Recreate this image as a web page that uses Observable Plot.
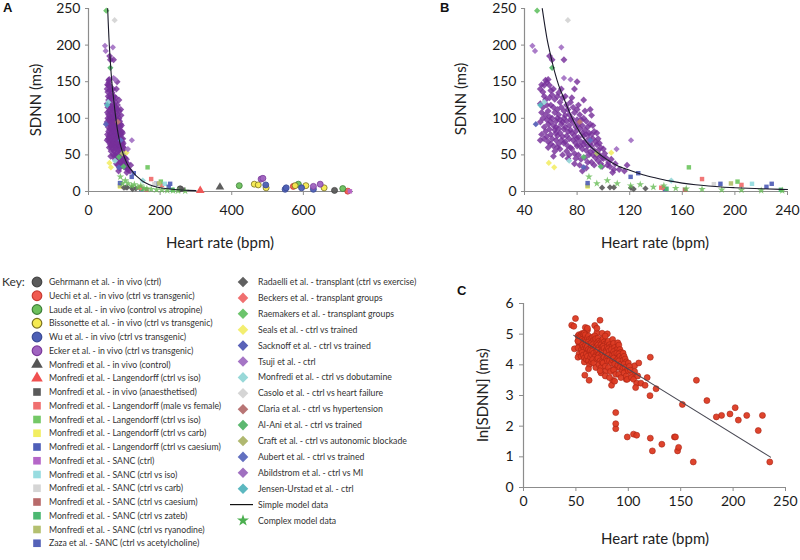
<!DOCTYPE html>
<html><head><meta charset="utf-8">
<script src="https://cdn.jsdelivr.net/npm/d3@7"></script>
<script src="https://cdn.jsdelivr.net/npm/@observablehq/plot@0.6"></script>
<style>
body{margin:0;background:#fff;font-family:Lato,sans-serif;}
#root{position:relative;width:800px;height:560px;overflow:hidden;background:#fff;}
.abs{position:absolute;}
.ttl{position:absolute;font-size:15px;color:#222;white-space:nowrap;transform:translate(-50%,-50%);}
.rot{transform:translate(-50%,-50%) rotate(-90deg);}
.pl{position:absolute;font:bold 13px Arial,sans-serif;color:#111;}
g[aria-label="x-axis"] line, g[aria-label="y-axis"] line,
g[aria-label="x-axis tick"] path, g[aria-label="y-axis tick"] path{stroke:#8c8c8c;}
</style></head>
<body><div id="root">
<div id="pA" class="abs" style="left:0;top:0"></div>
<div id="pB" class="abs" style="left:400px;top:0"></div>
<div id="pC" class="abs" style="left:450px;top:290px"></div>
<svg id="legend" class="abs" style="left:0;top:270px" width="460" height="290"></svg>
<div class="pl" style="left:3px;top:0">A</div>
<div class="pl" style="left:440px;top:0">B</div>
<div class="pl" style="left:457px;top:283px">C</div>
<div class="ttl rot" style="left:35px;top:100px">SDNN (ms)</div>
<div class="ttl" style="left:220px;top:242px">Heart rate (bpm)</div>
<div class="ttl rot" style="left:460px;top:99px">SDNN (ms)</div>
<div class="ttl" style="left:655px;top:242px">Heart rate (bpm)</div>
<div class="ttl rot" style="left:482px;top:395px">ln[SDNN] (ms)</div>
<div class="ttl" style="left:655px;top:538px">Heart rate (bpm)</div>
</div>
<script>
// ---------- data: [heart rate (bpm), SDNN (ms)] ----------
const gehrmann = [[687,1.5],[256,3.6]];
const uechi = [[724,0.5],[572,7]];
const laude = [[421,8],[586,10],[710,4]];
const bissonette = [[463,10],[474,9],[496,5],[577,8],[607,8],[658,5]];
const wu = [[495,9],[549,3],[552,5],[595,5],[628,3]];
const ecker = [[482,17],[487,18],[628,7],[647,10]];
const monInVivoCtrl = [[367,6]];
const monLangIsoTri = [[312,1.4]];
const monInVivoAnaes = [[264,2.5]];
const monLangMF = [[175,17],[205,9],[144,5.2]];
const monLangIso = [[165,33],[202,13.5]];
const monLangCarb = [[88,6.8]];
const monLangCs = [[189,10.5],[147,3.3]];
const monSancCtrl = [[730,0.3]];
const monSancIso = [[213,10.5]];
const monSancCarb = [[184,10]];
const monSancCs = [[162,2.3]];
const monSancZateb = [[148,3.7],[235,2.3]];
const monSancRyan = [[197,11],[88,8]];
const zaza = [[88,11.5],[120.7,20],[126.5,25],[224,6.4],[228,10.5]];
const radaelli = [[99,5.2],[105,5.7],[108,5.5],[121,5],[123,3.3],[132,4.1]];
const beckers = [[145,5.2]];
const raemakers = [[49.6,247]];
const seals = [[58.5,39],[62.6,33],[106,53]];
const sacknoff = [[48.6,92],[85,33]];
const tsuji = [[46,199],[48,192],[70,155],[75,153],[68,197],[110,58],[121,70]];
const monDobut = [[55,122],[74,42],[151.6,15]];
const casolo = [[73,234]];
const claria = [[82,95]];
const alAni = [[61,169],[85,47],[98,34]];
const craft = [[95,52]];
const aubert = [[90,70]];
const abildstrom = [
 [52,140],[53,146],[52,120],[53,108],[54,100],[52,95],[54,115],[55,130],[55,88],[53,78],[52,70],[55,72],[54,136],[55,145],
 [56,152],[57,149],[58,153],[56,125],[57,118],[58,110],[56,105],[57,98],[58,92],[59,85],[56,82],[57,75],[58,68],[59,128],[60,138],[59,145],[60,118],[59,102],[60,95],[60,78],[58,60],[60,65],[59,185],[61,180],
 [61,132],[62,140],[63,126],[62,115],[63,108],[61,100],[64,96],[62,90],[63,84],[64,80],[61,72],[62,62],[64,70],[63,55],[65,130],[65,112],[65,100],[64,88],[65,76],[65,60],[62,48],
 [66,135],[67,122],[68,115],[66,105],[67,98],[68,92],[66,86],[67,80],[69,75],[68,70],[66,65],[67,58],[69,50],[68,140],[69,128],[70,110],[70,100],[69,95],[70,85],[70,66],[70,180],
 [71,130],[72,118],[73,112],[71,104],[72,96],[74,90],[71,88],[73,82],[72,76],[74,72],[71,68],[73,62],[72,55],[74,50],[75,122],[74,105],[75,98],[75,84],[73,45],[75,60],
 [76,128],[77,115],[78,108],[76,100],[77,94],[79,88],[76,80],[78,76],[77,70],[79,66],[76,58],[78,52],[79,45],[80,150],[78,140],[80,112],[80,98],[79,82],[80,72],[80,62],[78,38],
 [81,118],[82,105],[83,98],[81,92],[82,86],[84,80],[81,74],[83,68],[82,62],[84,58],[81,50],[83,44],[85,125],[85,100],[84,90],[85,76],[85,64],[82,36],[84,28],
 [86,110],[87,96],[88,88],[86,84],[87,78],[89,72],[86,68],[88,62],[87,56],[89,50],[86,46],[88,40],[90,112],[90,92],[89,80],[90,66],[90,54],[87,32],
 [91,104],[92,90],[93,82],[91,78],[92,72],[94,68],[91,62],[93,56],[92,50],[94,46],[91,40],[93,36],[95,80],[95,64],[95,50],
 [96,72],[97,66],[98,60],[96,56],[97,50],[99,46],[96,42],[98,38],[100,58],[100,45],[99,34],
 [101,52],[102,46],[104,40],[103,36],[105,34],[106,44],[108,30],[112,30],[109,38],[107,26],
 [118,36],[116,28]];
const jensen = [[52,118]];
const simpleModel = [[53.5,250],[55,232],[57,210],[60,185],[63,163],[66,145],[70,127],[75,105],[80,87],[85,73],[90,62],[95,54],[100,47],[110,36],[120,29],[130,23],[140,18.5],[150,14.5],[160,11.5],[170,9.3],[180,7.6],[190,6.2],[200,5.2],[220,3.7],[240,2.7],[260,2],[280,1.5],[300,1.2]];
const complexModel = [[89,20],[95,11],[103,15],[110.5,11],[120.7,8],[128,9.6],[138,6],[146,8],[155,4.5],[163,3.6],[175,3],[190,2.5],[205,2],[220,1.5],[236,1.2],[250,1],[270,0.8]];
// panel C fitted line: [heart rate, ln SDNN]
const lnModel = [[48,4.96],[235.7,0.99]];
// tick labels
const ticksA_x = [0,200,400,600];
const ticksB_x = [40,80,120,160,200,240];
const ticksSDNN = [0,50,100,150,200,250];
const ticksC_x = [0,50,100,150,200,250];
const ticksC_y = [0,1,2,3,4,5,6];

// series table (legend order)
const leftSeries = [
 {name:"Gehrmann et al. - in vivo (ctrl)", shape:"circle", fill:"#5b5b5b", stroke:"#444", data:gehrmann},
 {name:"Uechi et al. - in vivo (ctrl vs transgenic)", shape:"circle", fill:"#f05a50", stroke:"#c83a32", data:uechi},
 {name:"Laude et al. - in vivo (control vs atropine)", shape:"circle", fill:"#6cc05c", stroke:"#3f7f3a", data:laude},
 {name:"Bissonette et al. - in vivo (ctrl vs transgenic)", shape:"circle", fill:"#f5ea50", stroke:"#7a7020", data:bissonette},
 {name:"Wu et al. - in vivo (ctrl vs transgenic)", shape:"circle", fill:"#4d5fb5", stroke:"#3a4a95", data:wu},
 {name:"Ecker et al. - in vivo (ctrl vs transgenic)", shape:"circle", fill:"#a064c0", stroke:"#7a3a9a", data:ecker},
 {name:"Monfredi et al. - in vivo (control)", shape:"triangle", fill:"#555", stroke:"#555", data:monInVivoCtrl},
 {name:"Monfredi et al. - Langendorff (ctrl vs iso)", shape:"triangle", fill:"#f05050", stroke:"#f05050", data:monLangIsoTri},
 {name:"Monfredi et al. - in vivo (anaesthetised)", shape:"square", fill:"#5a5a5a", stroke:"#5a5a5a", data:monInVivoAnaes},
 {name:"Monfredi et al. - Langendorff (male vs female)", shape:"square", fill:"#f07070", stroke:"#f07070", data:monLangMF},
 {name:"Monfredi et al. - Langendorff (ctrl vs iso)", shape:"square", fill:"#74c866", stroke:"#74c866", data:monLangIso},
 {name:"Monfredi et al. - Langendorff (ctrl vs carb)", shape:"square", fill:"#f2ee60", stroke:"#f2ee60", data:monLangCarb},
 {name:"Monfredi et al. - Langendorff (ctrl vs caesium)", shape:"square", fill:"#4f5fb8", stroke:"#4f5fb8", data:monLangCs},
 {name:"Monfredi et al. - SANC (ctrl)", shape:"square", fill:"#b566c8", stroke:"#b566c8", data:monSancCtrl},
 {name:"Monfredi et al. - SANC (ctrl vs iso)", shape:"square", fill:"#98dce0", stroke:"#98dce0", data:monSancIso},
 {name:"Monfredi et al. - SANC (ctrl vs carb)", shape:"square", fill:"#d5d5d5", stroke:"#d5d5d5", data:monSancCarb},
 {name:"Monfredi et al. - SANC (ctrl vs caesium)", shape:"square", fill:"#b86a6a", stroke:"#b86a6a", data:monSancCs},
 {name:"Monfredi et al. - SANC (ctrl vs zateb)", shape:"square", fill:"#4cb872", stroke:"#4cb872", data:monSancZateb},
 {name:"Monfredi et al. - SANC (ctrl vs ryanodine)", shape:"square", fill:"#b4c070", stroke:"#b4c070", data:monSancRyan},
 {name:"Zaza et al. - SANC (ctrl vs acetylcholine)", shape:"square", fill:"#5562b8", stroke:"#5562b8", data:zaza}
];
const rightSeries = [
 {name:"Radaelli et al. - transplant (ctrl vs exercise)", shape:"diamond", fill:"#606060", data:radaelli},
 {name:"Beckers et al. - transplant groups", shape:"diamond", fill:"#f07070", data:beckers},
 {name:"Raemakers et al. - transplant groups", shape:"diamond", fill:"#6cc46c", data:raemakers},
 {name:"Seals et al. - ctrl vs trained", shape:"diamond", fill:"#f3ee70", data:seals},
 {name:"Sacknoff et al. - ctrl vs trained", shape:"diamond", fill:"#5a62b8", data:sacknoff},
 {name:"Tsuji et al. - ctrl", shape:"diamond", fill:"#a575c5", data:tsuji},
 {name:"Monfredi et al. - ctrl vs dobutamine", shape:"diamond", fill:"#98d8d8", data:monDobut},
 {name:"Casolo et al. - ctrl vs heart failure", shape:"diamond", fill:"#d5d5d5", data:casolo},
 {name:"Claria et al. - ctrl vs hypertension", shape:"diamond", fill:"#b87575", data:claria},
 {name:"Al-Ani et al. - ctrl vs trained", shape:"diamond", fill:"#5cb870", data:alAni},
 {name:"Craft et al. - ctrl vs autonomic blockade", shape:"diamond", fill:"#b0b870", data:craft},
 {name:"Aubert et al. - ctrl vs trained", shape:"diamond", fill:"#6270c0", data:aubert},
 {name:"Abildstrom et al. - ctrl vs MI", shape:"diamond", fill:"#a070c0", data:abildstrom, plotFill:"#76309a"},
 {name:"Jensen-Urstad et al. - ctrl", shape:"diamond", fill:"#5cb8c0", data:jensen}
];
const allSeries = [...leftSeries, ...rightSeries];
const plotSymbol = {circle:"circle", triangle:"triangle", square:"square", diamond:"diamond2"};
const plotR = {circle:3, triangle:3.2, square:2.5, diamond:2.8};

const baseStyle = {fontFamily:"Lato, sans-serif", fontSize:"14px", color:"#1a1a1a", background:"transparent", overflow:"visible"};

function sdnnPanel(xdom, xticks, width, mL, mR){
  const inX = d => d[0] >= xdom[0] && d[0] <= xdom[1];
  const cluster = rightSeries[12];
  const order = [cluster, ...allSeries.filter(s => s !== cluster)];
  const marks = [
    Plot.ruleY([0], {stroke:"#8c8c8c", strokeWidth:1.2}),
    Plot.ruleX([xdom[0]], {stroke:"#8c8c8c", strokeWidth:1.2})
  ];
  for (const s of order) {
    marks.push(Plot.dot(s.data.filter(inX), {x:d=>d[0], y:d=>d[1], symbol:plotSymbol[s.shape],
      r: s === cluster ? 3.1 : plotR[s.shape],
      fill:s.plotFill || s.fill, stroke:s.shape==="circle" ? s.stroke : "none", strokeWidth:0.8,
      fillOpacity: s === cluster ? 0.82 : 0.95}));
  }
  marks.push(Plot.dot(complexModel.filter(inX), {x:d=>d[0], y:d=>d[1], symbol:"star", r:2.4, fill:"#66bb55", fillOpacity:0.8}));
  marks.push(Plot.line(simpleModel.filter(inX), {x:d=>d[0], y:d=>d[1], stroke:"#1a1a2a", strokeWidth:1.1, curve:"monotone-x"}));
  return Plot.plot({
    width, height:240, marginLeft:mL, marginRight:mR, marginTop:8, marginBottom:49,
    style: baseStyle,
    x:{domain:xdom, ticks:xticks, tickSize:4, tickPadding:10, label:null},
    y:{domain:[0,250], ticks:ticksSDNN, tickSize:3, tickPadding:5, label:null},
    marks
  });
}

document.getElementById("pA").appendChild(sdnnPanel([0,740], ticksA_x, 370, 88, 17));
document.getElementById("pB").appendChild(sdnnPanel([40,240], ticksB_x, 400, 124, 13));

// Panel C: ln of the human/SANC data up to 240 bpm
const cData = allSeries.flatMap(s => s.data).filter(d => d[0] <= 240).map(d => [d[0], Math.log(d[1])]);
document.getElementById("pC").appendChild(Plot.plot({
  width:350, height:270, marginLeft:73, marginRight:15, marginTop:13, marginBottom:73,
  style: baseStyle,
  x:{domain:[0,250], ticks:ticksC_x, tickSize:4, tickPadding:5, label:null},
  y:{domain:[0,6], ticks:ticksC_y, tickFormat:d=>String(d), tickSize:4, tickPadding:6, label:null},
  marks:[
    Plot.ruleY([0], {stroke:"#8c8c8c", strokeWidth:1.2}),
    Plot.ruleX([0], {stroke:"#8c8c8c", strokeWidth:1.2}),
    Plot.dot(cData, {x:d=>d[0], y:d=>d[1], r:3, fill:"#dc3a22", stroke:"#a82414", strokeWidth:0.6, fillOpacity:0.95}),
    Plot.line(lnModel, {x:d=>d[0], y:d=>d[1], stroke:"#4a4a55", strokeWidth:1.1})
  ]
}));

// Legend
const leg = d3.select("#legend");
leg.append("text").attr("x",2).attr("y",12).attr("dy","0.35em").attr("font-size",12).attr("fill","#333").attr("font-family","Lato, sans-serif").text("Key:");
const d3sym = {circle:[d3.symbolCircle,72,0], triangle:[d3.symbolTriangle,58,0], square:[d3.symbolSquare,58,0], diamond:[d3.symbolSquare,56,45]};
function legRow(s, x, y){
  const [sym,size,rot] = d3sym[s.shape];
  leg.append("path").attr("d", d3.symbol(sym,size)()).attr("transform",`translate(${x},${y}) rotate(${rot})`)
    .attr("fill", s.fill).attr("stroke", s.shape==="circle" ? s.stroke : "none").attr("stroke-width",1.2);
}
function legText(t, x, y){
  leg.append("text").attr("x",x).attr("y",y).attr("dy","0.35em").attr("font-size",8.7).attr("fill","#333")
    .attr("font-family","Lato, sans-serif").text(t);
}
leftSeries.forEach((s,i) => { const y = 12 + i*13.75; legRow(s, 37, y); legText(s.name, 49, y); });
rightSeries.forEach((s,i) => { const y = 12 + i*15.9; legRow(s, 243, y); legText(s.name, 258, y); });
{ const y = 12 + 14*15.9; leg.append("line").attr("x1",230).attr("x2",253).attr("y1",y).attr("y2",y).attr("stroke","#111").attr("stroke-width",1.2); legText("Simple model data", 258, y); }
{ const y = 12 + 15*15.9; leg.append("path").attr("d", d3.symbol(d3.symbolStar, 45)()).attr("transform",`translate(243,${y})`).attr("fill","#4caf50"); legText("Complex model data", 258, y); }
</script>
</body></html>
